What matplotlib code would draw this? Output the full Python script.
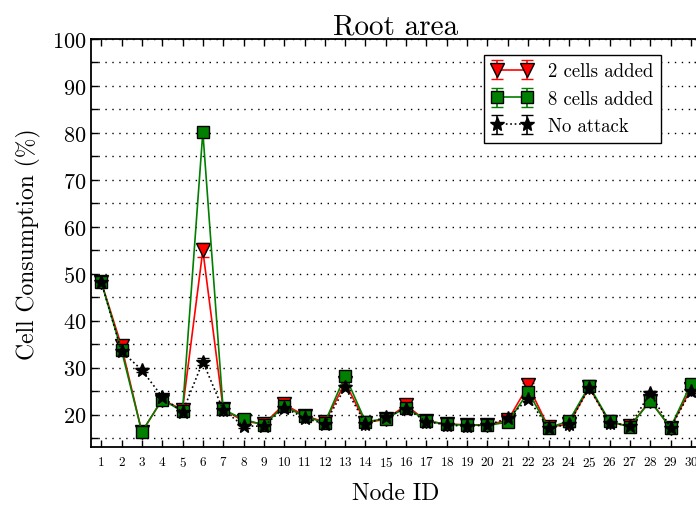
import matplotlib
matplotlib.use("Agg")
import matplotlib.pyplot as plt
from matplotlib.ticker import MultipleLocator

# LaTeX-like look
plt.rcParams['font.family'] = 'cmr10'
plt.rcParams['mathtext.fontset'] = 'cm'
plt.rcParams['axes.formatter.use_mathtext'] = True

nodes = list(range(1, 31))
two_cells = [48.3, 34.6, 16.3, 23.2, 21.0, 55.0, 21.2, 18.6, 18.0, 22.2,
             19.8, 18.4, 26.8, 18.3, 19.0, 22.0, 18.6, 18.0, 17.8, 17.8,
             18.8, 26.2, 17.3, 18.0, 25.8, 18.4, 17.5, 23.0, 17.2, 25.5]
eight_cells = [48.3, 33.7, 16.3, 23.2, 20.7, 80.2, 21.1, 19.0, 17.8, 21.8,
               19.6, 18.3, 28.3, 18.5, 19.1, 21.5, 18.7, 17.9, 17.8, 17.7,
               18.4, 24.8, 17.2, 18.6, 26.1, 18.6, 17.4, 22.9, 17.2, 26.5]
no_attack = [48.3, 33.5, 29.5, 23.8, 20.5, 31.3, 21.0, 17.6, 17.5, 21.5,
             19.3, 18.0, 25.8, 18.0, 19.5, 21.3, 18.5, 17.8, 17.5, 17.8,
             19.2, 23.4, 17.2, 17.9, 25.7, 18.3, 17.6, 24.6, 17.2, 25.0]

err_two = [0.5] * 30
err_two[5] = 1.5
err_eight = [0.5] * 30
err_no = [0.5] * 30
err_no[5] = 0.8

fig = plt.figure(figsize=(6.96, 5.06), dpi=100)
ax = fig.add_axes([91 / 696, 58 / 506, 610 / 696, 408 / 506])

ax.errorbar(nodes, two_cells, yerr=err_two, color='red', marker='v',
            markersize=9.5, markeredgecolor='black', markerfacecolor='red',
            linewidth=1.2, capsize=4, label='2 cells added')
ax.errorbar(nodes, eight_cells, yerr=err_eight, color='#007f00', marker='s',
            markersize=9, markeredgecolor='black', markerfacecolor='#007f00',
            linewidth=1.2, capsize=4, label='8 cells added')
ax.errorbar(nodes, no_attack, yerr=err_no, color='black', marker='*',
            markersize=10.5, linestyle=':', linewidth=1.2, capsize=4,
            label='No attack')

ax.set_xlim(0.5, 30.5)
ax.set_ylim(13.1, 100)
ax.xaxis.set_major_locator(MultipleLocator(1))
ax.yaxis.set_minor_locator(MultipleLocator(5))
ax.set_yticks(range(20, 101, 10))

ax.tick_params(axis='x', which='both', direction='in', top=True, labelsize=9.5,
               length=5, width=1, pad=6)
ax.tick_params(axis='y', which='both', direction='in', right=True, labelsize=16,
               length=5, width=1, pad=3)
for s in ax.spines.values():
    s.set_linewidth(1.3)

ax.yaxis.grid(True, which='both', linestyle=(0, (1, 4)), color='black', linewidth=1)
ax.set_axisbelow(True)

ax.set_title('Root area', fontsize=21, pad=3)
ax.set_xlabel('Node ID', fontsize=17, labelpad=9)
ax.set_ylabel('Cell Consumption (%)', fontsize=17, labelpad=8)

leg = ax.legend(loc='upper left', bbox_to_anchor=(484 / 696, 1 - 56 / 506),
                bbox_transform=fig.transFigure, fontsize=13.5, numpoints=2,
                fancybox=False, edgecolor='black', framealpha=1,
                handlelength=2.2, borderaxespad=0)
leg.get_frame().set_linewidth(1)

fig.savefig('out.png', dpi=100)
